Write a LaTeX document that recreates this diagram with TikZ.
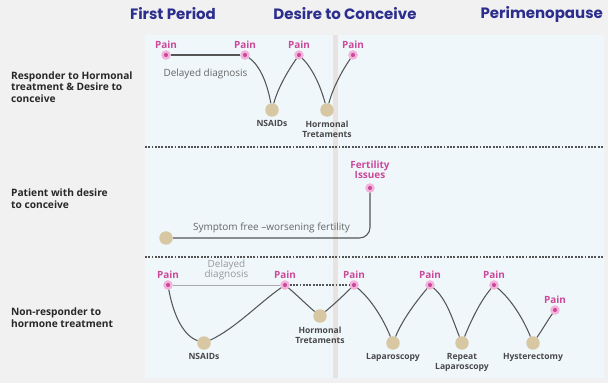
\documentclass[tikz,border=0pt]{standalone}
\usepackage{fontspec}
\setmainfont{Open Sans}
\newfontfamily\headfont{Poppins}
\definecolor{painpink}{RGB}{204,72,154}
\definecolor{painhalo}{RGB}{242,178,218}
\definecolor{treattan}{RGB}{216,199,163}
\definecolor{linegray}{RGB}{85,85,85}
\definecolor{softgray}{RGB}{170,170,170}
\definecolor{darktext}{RGB}{40,40,40}
\definecolor{headblue}{RGB}{43,46,140}
\definecolor{pagebg}{RGB}{241,241,241}
\definecolor{panelbg}{RGB}{239,247,251}
\definecolor{gapbg}{RGB}{233,226,224}
\begin{document}
\begin{tikzpicture}[x=0.03cm, y=-0.03cm,
    hit/.style={circle, fill=painpink, draw=painhalo, line width=2pt, inner sep=0pt, minimum size=6pt},
    pain/.style={hit, label={[painlbl]above:Pain}},
    painlbl/.style={text=painpink, font=\fontsize{8.5}{10}\selectfont\bfseries, inner sep=1.5pt, align=center},
    treat/.style={circle, fill=treattan, inner sep=0pt, minimum size=11.5pt, label={[treatlbl]below:#1}},
    treatlbl/.style={text=darktext!85, font=\fontsize{7.3}{8.6}\selectfont\bfseries, inner sep=3pt, align=center},
    wave/.style={draw=linegray, line width=0.9pt, looseness=0.8},
    rowlbl/.style={anchor=west, align=left, text=darktext, font=\fontsize{8.7}{10}\selectfont\bfseries},
    phase/.style={text=headblue, font=\headfont\fontsize{12.8}{15}\selectfont\bfseries},
    note/.style={text=linegray!90, align=center, font=\fontsize{8.5}{10}\selectfont}]
    % background and panels
    \fill[pagebg] (0,0) rectangle (608,383);
    \useasboundingbox (0,0) rectangle (608,383);
    \fill[panelbg] (145,35) rectangle (333,378);
    \fill[gapbg] (333,35) rectangle (338,378);
    \fill[panelbg] (338,35) rectangle (604,378);
    \draw[darktext!80, line width=0.9pt, dash pattern=on 1.6pt off 1.2pt] (145,147) -- (604,147);
    \draw[darktext!80, line width=0.9pt, dash pattern=on 1.6pt off 1.2pt] (145,257) -- (604,257);

    % phases
    \node[phase] (first) at (173,14) {First Period};
    \node[phase] (desire) at (345,14) {Desire to Conceive};
    \node[phase, anchor=east] (peri) at (607,14) {Perimenopause};

    % row titles
    \node[rowlbl] (r1) at (7,87) {Responder to Hormonal\\treatment \& Desire to\\conceive};
    \node[rowlbl] (r2) at (7,199) {Patient with desire\\to conceive};
    \node[rowlbl] (r3) at (7,318) {Non-responder to\\hormone treatment};

    % responder
    \node[pain] (a1) at (166,55) {};
    \node[pain] (a2) at (245,55) {};
    \node[pain] (a3) at (299,55) {};
    \node[pain] (a4) at (353,55) {};
    \node[treat=NSAIDs] (b1) at (272,110) {};
    \node[treat={Hormonal\\Tretaments}] (b2) at (327,110) {};
    \draw[wave] (a1) -- node[note, below=8pt]{Delayed diagnosis} (a2);
    \draw[wave] (a2) to[out=-35,in=100] (b1) to[out=75,in=-125] (a3)
        to[out=-45,in=105] (b2) to[out=75,in=-125] (a4);

    % desire to conceive
    \node[hit, label={[painlbl, inner sep=4pt]above:Fertility\\[-2pt]Issues}] (f) at (370,188) {};
    \node[treat] (s) at (166,238) {};
    \draw[wave, rounded corners=9pt] (s) -- node[note, above=1pt]{Symptom free --worsening fertility} (s -| f) -- (f);

    % non-responder
    \node[pain] (c1) at (168,285) {};
    \node[pain] (c2) at (285,285) {};
    \node[pain] (c3) at (354,285) {};
    \node[pain] (c4) at (430,285) {};
    \node[pain] (c5) at (494,285) {};
    \node[pain] (c6) at (555,310) {};
    \node[treat=NSAIDs] (d1) at (204,343) {};
    \node[treat={Hormonal\\Tretaments}] (d2) at (320,316) {};
    \node[treat=Laparoscopy] (d3) at (393,343) {};
    \node[treat={Repeat\\Laparoscopy}] (d4) at (462,343) {};
    \node[treat=Hysterectomy] (d5) at (533,343) {};
    \draw[softgray, line width=0.7pt] (c1) -- node[note, text=softgray!90!black, above=1pt]{Delayed\\[-2pt]diagnosis} (c2);
    \draw[linegray, line width=1pt, dash pattern=on 1.6pt off 1.2pt] (c2) -- (c3);
    \draw[wave] (c1) to[out=-80,in=160] (d1) to[out=25,in=-145] (c2)
        to[out=-40,in=140] (d2) to[out=40,in=-135] (c3)
        to[out=-40,in=112] (d3) to[out=68,in=-130] (c4)
        to[out=-40,in=112] (d4) to[out=68,in=-130] (c5)
        to[out=-40,in=112] (d5) to[out=55,in=-125] (c6);
\end{tikzpicture}
\end{document}
